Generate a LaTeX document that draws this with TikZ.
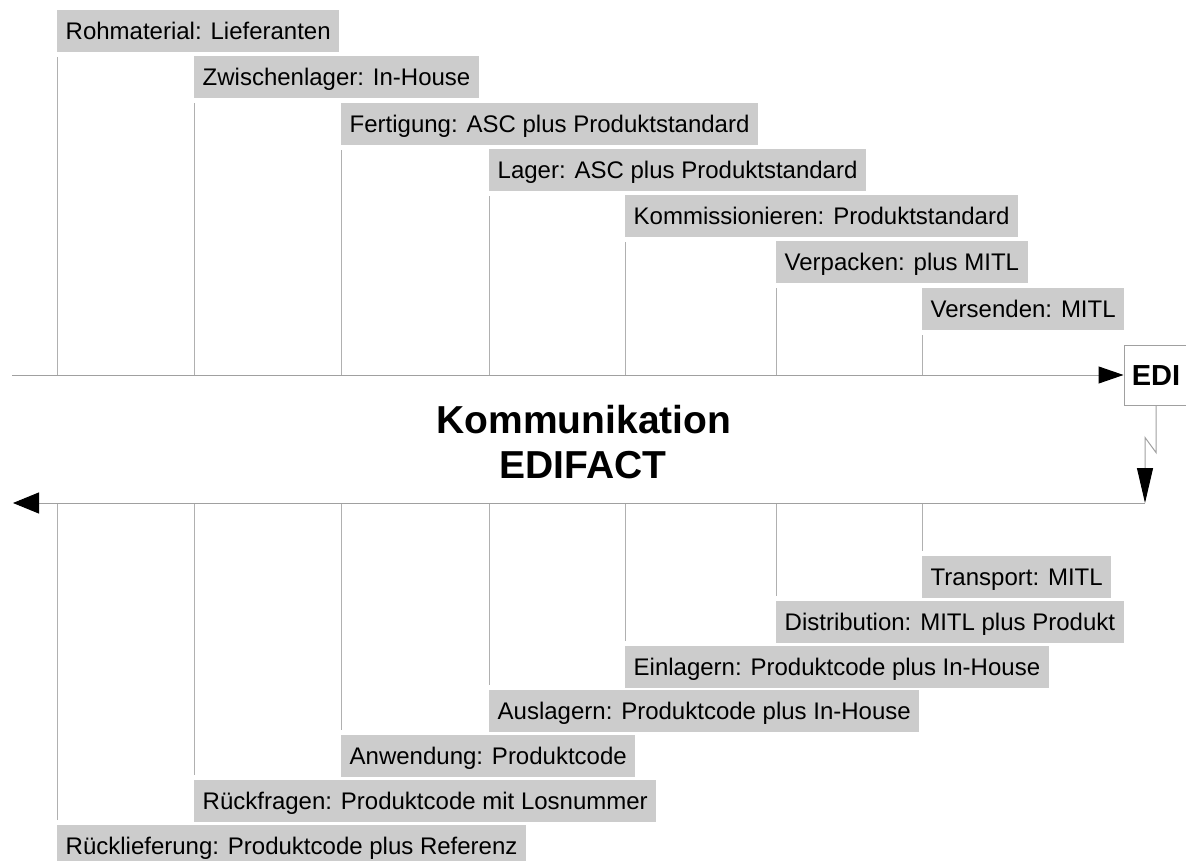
\documentclass[tikz,border=0pt]{standalone}
\usepackage{fontspec}
\setmainfont{Liberation Sans}
\usetikzlibrary{arrows.meta,calc}
\definecolor{boxgray}{HTML}{CCCCCC}
\definecolor{linegray}{HTML}{A0A0A0}
\definecolor{vgray}{HTML}{B0B0B0}
\begin{document}
\begin{tikzpicture}[x=1pt,y=-1pt,
  lbl/.style={fill=boxgray, anchor=west, inner xsep=8.5pt, inner ysep=0pt,
    minimum height=42pt, text height=17.2pt, text depth=0pt,
    font=\fontsize{24}{28}\selectfont},
  vline/.style={draw=vgray, line width=1pt},
  mainline/.style={draw=linegray, line width=1pt},
  titlefont/.style={font=\fontsize{39}{45}\bfseries\selectfont, anchor=base}]
\useasboundingbox (0,0) rectangle (1186,861);
\fill[white] (0,0) rectangle (1186,861);

% coordinates of the two main lines
\coordinate (topline) at (0,375);
\coordinate (botline) at (0,503);
\coordinate (lstart) at (12,375);
\coordinate (lend) at (13,503);
\coordinate (ediin) at (1145,503);

% top labels
\node[lbl] (t1) at (57,31)  {Rohmaterial: Lieferanten};
\node[lbl] (t2) at (194,77) {Zwischenlager: In-House};
\node[lbl] (t3) at (341,124) {Fertigung: ASC plus Produktstandard};
\node[lbl] (t4) at (489,170) {Lager: ASC plus Produktstandard};
\node[lbl] (t5) at (625,216) {Kommissionieren: Produktstandard};
\node[lbl] (t6) at (776,262) {Verpacken: plus MITL};
\node[lbl] (t7) at (922,309) {Versenden: MITL};

% bottom labels
\node[lbl] (b1) at (922,577) {Transport: MITL};
\node[lbl] (b2) at (776,622) {Distribution: MITL plus Produkt};
\node[lbl] (b3) at (625,667) {Einlagern: Produktcode plus In-House};
\node[lbl] (b4) at (489,711) {Auslagern: Produktcode plus In-House};
\node[lbl] (b5) at (341,756) {Anwendung: Produktcode};
\node[lbl] (b6) at (194,801) {Rückfragen: Produktcode mit Losnummer};
\node[lbl] (b7) at (57,846)  {Rücklieferung: Produktcode plus Referenz};

% vertical lines
\foreach \n in {t1,t2,t3,t4,t5,t6,t7}{
  \draw[vline] ($(\n.south west)+(0,5)$) -- (\n.south west |- topline);
}
\foreach \n in {b1,b2,b3,b4,b5,b6,b7}{
  \draw[vline] (\n.north west |- botline) -- ($(\n.north west)+(0,-5)$);
}

% EDI box
\node[draw=linegray, line width=1pt, fill=white, minimum width=64pt, minimum height=60pt,
  inner sep=0pt, text height=20pt, text depth=0pt,
  font=\fontsize{29}{32}\bfseries\selectfont] (edi) at (1156,375) {EDI};

% main arrows
\draw[mainline, -{Triangle[length=25pt,width=17pt,color=black]}] (lstart) -- (edi.west);
\draw[mainline, -{Triangle[length=35pt,width=16pt,color=black]}]
  (edi.south) -- ++(0,47) -- ++(-11,-15) coordinate (zz) -- (zz |- ediin);
\draw[mainline, -{Triangle[length=26pt,width=21pt,color=black]}] (ediin) -- (lend);

% title
\node[titlefont] (title1) at (584,433) {Kommunikation};
\node[titlefont] (title2) at (583,478) {EDIFACT};
\end{tikzpicture}
\end{document}
